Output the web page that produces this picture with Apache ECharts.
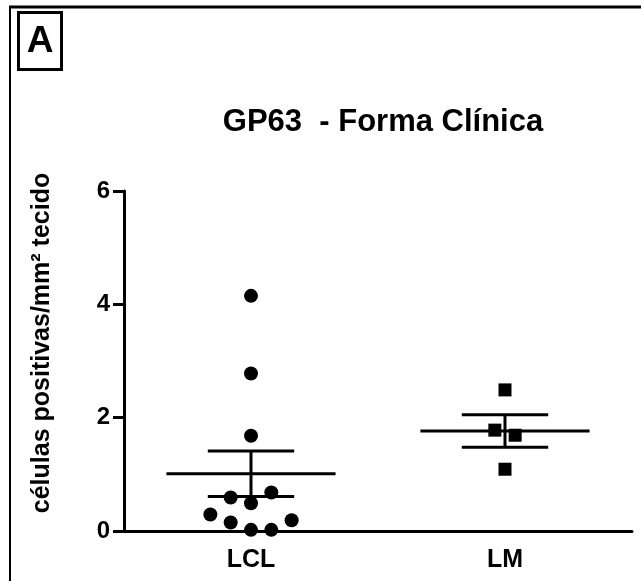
<!DOCTYPE html>
<html>
<head>
<meta charset="utf-8">
<script src="https://cdn.jsdelivr.net/npm/echarts@6/dist/echarts.min.js"></script>
<style>html,body{margin:0;padding:0;background:#fff}#c{width:641px;height:581px}</style>
</head>
<body>
<div id="c"></div>
<script>
// ---- data ----
const categories = ['LCL', 'LM'];
const yTicks = [0, 2, 4, 6];
const lclValues = [4.15, 2.78, 1.68, 0.59, 0.49, 0.68, 0.29, 0.15, 0.19, 0.02, 0.02];
const lclJitter = [0, 0, 0, -0.08, 0, 0.08, -0.16, -0.08, 0.16, 0, 0.08];
const lmValues = [2.49, 1.78, 1.69, 1.09];
const lmJitter = [0, -0.04, 0.04, 0];
const groupMeans = [1.01, 1.765];
const groupSems = [0.40, 0.285];

const FONT = "'Liberation Sans', Arial, Helvetica, sans-serif";
const chart = echarts.init(document.getElementById('c'));

function pts(vals, jit, idx) {
  return vals.map((v, i) => [idx + 0.5 + jit[i], v]);
}
const statData = categories.map((c, i) => [i + 0.5, groupMeans[i], groupSems[i]]);

chart.setOption({
  animation: false,
  backgroundColor: '#fff',
  title: {
    text: 'GP63  - Forma Clínica',
    left: 378, top: 102, textAlign: 'center',
    textStyle: { fontFamily: FONT, fontWeight: 'bold', fontSize: 31, color: '#000' }
  },
  grid: { left: 124, right: 9, top: 191, bottom: 50, containLabel: false },
  xAxis: [
    {
      type: 'category', data: categories, boundaryGap: true,
      axisLine: { lineStyle: { color: '#000', width: 3 } },
      axisTick: { alignWithLabel: true, length: 12, lineStyle: { color: '#000', width: 3 } },
      axisLabel: { fontFamily: FONT, fontWeight: 'bold', fontSize: 25, color: '#000', margin: 17 },
      splitLine: { show: false }
    },
    { type: 'value', min: 0, max: 2, show: false }
  ],
  yAxis: {
    type: 'value', min: yTicks[0], max: yTicks[yTicks.length - 1], interval: 2,
    name: 'células positivas/mm² tecido', nameLocation: 'middle', nameGap: 69,
    nameTextStyle: { fontFamily: FONT, fontWeight: 'bold', fontSize: 25, color: '#000', padding: [0, 0, 0, 36] },
    axisLine: { show: true, lineStyle: { color: '#000', width: 3 } },
    axisTick: { show: true, length: 11, lineStyle: { color: '#000', width: 3 } },
    axisLabel: { fontFamily: FONT, fontWeight: 'bold', fontSize: 24, color: '#000', margin: 14 },
    splitLine: { show: false }
  },
  series: [
    {
      type: 'custom', xAxisIndex: 1, data: statData, z: 3,
      renderItem: function (params, api) {
        const x = api.value(0), m = api.value(1), s = api.value(2);
        const ml = api.coord([x - 0.333, m]), mr = api.coord([x + 0.333, m]);
        const ul = api.coord([x - 0.17, m + s]), ur = api.coord([x + 0.17, m + s]);
        const ll = api.coord([x - 0.17, m - s]), lr = api.coord([x + 0.17, m - s]);
        const vt = api.coord([x, m + s]), vb = api.coord([x, m - s]);
        const st = { stroke: '#000', lineWidth: 3 };
        return { type: 'group', children: [
          { type: 'line', shape: { x1: ml[0], y1: ml[1], x2: mr[0], y2: mr[1] }, style: st },
          { type: 'line', shape: { x1: ul[0], y1: ul[1], x2: ur[0], y2: ur[1] }, style: st },
          { type: 'line', shape: { x1: ll[0], y1: ll[1], x2: lr[0], y2: lr[1] }, style: st },
          { type: 'line', shape: { x1: vt[0], y1: vt[1], x2: vb[0], y2: vb[1] }, style: st }
        ]};
      }
    },
    {
      type: 'scatter', xAxisIndex: 1, data: pts(lclValues, lclJitter, 0),
      symbol: 'circle', symbolSize: 14, itemStyle: { color: '#000', opacity: 1 }, z: 4
    },
    {
      type: 'scatter', xAxisIndex: 1, data: pts(lmValues, lmJitter, 1),
      symbol: 'rect', symbolSize: 13, itemStyle: { color: '#000', opacity: 1 }, z: 4
    }
  ],
  graphic: [
    { type: 'line', shape: { x1: 9, y1: 7, x2: 641, y2: 7 }, style: { stroke: '#000', lineWidth: 3 } },
    { type: 'line', shape: { x1: 10, y1: 6, x2: 10, y2: 581 }, style: { stroke: '#000', lineWidth: 2 } },
    { type: 'rect', shape: { x: 18.5, y: 12.5, width: 43, height: 57 }, style: { fill: '#fff', stroke: '#000', lineWidth: 3 } },
    { type: 'text', x: 40, y: 42, style: { text: 'A', fontFamily: FONT, fontWeight: 'bold', fontSize: 37, fill: '#000', align: 'center', verticalAlign: 'middle' } }
  ]
});
</script>
</body>
</html>
